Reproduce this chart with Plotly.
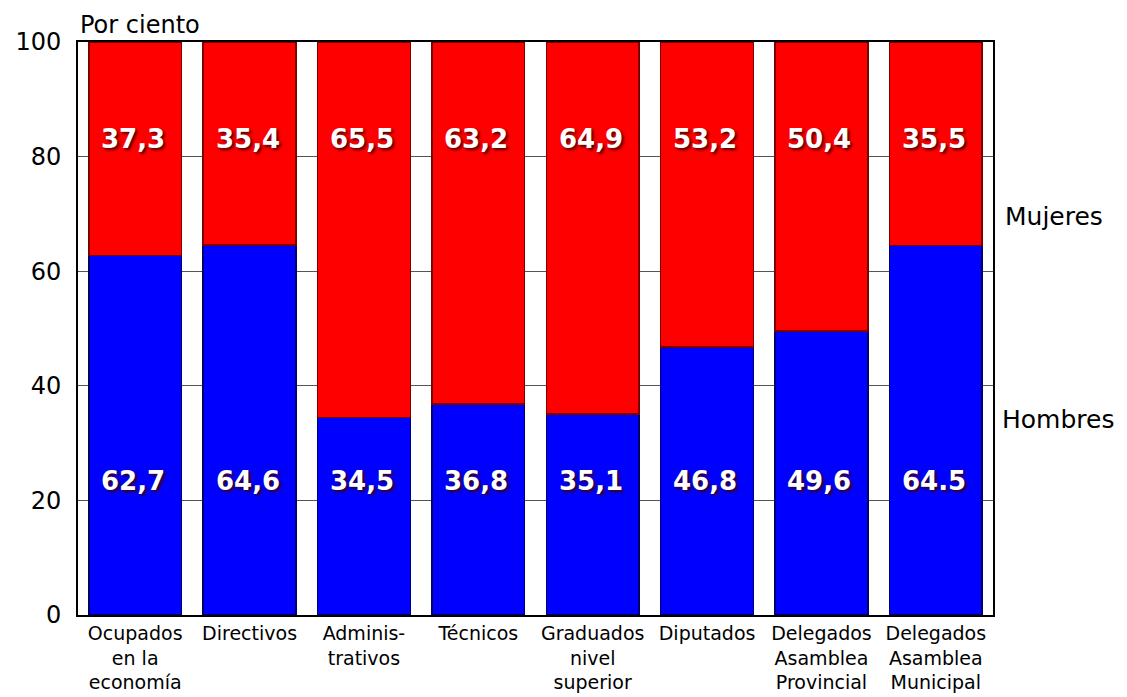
import plotly.graph_objects as go

categories = ["Ocupados<br>en la<br>economía", "Directivos", "Adminis-<br>trativos", "Técnicos",
              "Graduados<br>nivel<br>superior", "Diputados", "Delegados<br>Asamblea<br>Provincial",
              "Delegados<br>Asamblea<br>Municipal"]
hombres_labels = ["62,7", "64,6", "34,5", "36,8", "35,1", "46,8", "49,6", "64.5"]
mujeres_labels = ["37,3", "35,4", "65,5", "63,2", "64,9", "53,2", "50,4", "35,5"]
hombres = [float(s.replace(",", ".")) for s in hombres_labels]
mujeres = [float(s.replace(",", ".")) for s in mujeres_labels]
y_ticks = [0, 20, 40, 60, 80, 100]

WIDE = "DejaVu Sans, Liberation Sans, sans-serif"

fig = go.Figure()
fig.add_trace(go.Bar(x=list(range(len(categories))), y=hombres, name="Hombres",
                     marker=dict(color="#0000FF", line=dict(color="#00006A", width=1.5))))
fig.add_trace(go.Bar(x=list(range(len(categories))), y=mujeres, name="Mujeres",
                     marker=dict(color="#FF0000", line=dict(color="#7A0000", width=1.5))))

lbl_font = dict(family=WIDE, size=26, color="white", weight="bold",
                shadow="2px 2px 3px rgba(60,0,0,0.9)")
for i in range(len(categories)):
    fig.add_annotation(x=i, y=83, text=mujeres_labels[i], showarrow=False, font=lbl_font,
                       xref="x", yref="y", xshift=-2)
    fig.add_annotation(x=i, y=23.4, text=hombres_labels[i], showarrow=False, font=lbl_font,
                       xref="x", yref="y", xshift=-2)

fig.add_annotation(text="Por ciento", xref="paper", yref="paper", x=0.0, y=1.0,
                   xanchor="left", yanchor="bottom", yshift=1, showarrow=False,
                   font=dict(family=WIDE, size=24, color="black"))
fig.add_annotation(text="Mujeres", xref="paper", yref="y", x=1.0, y=69.5,
                   xanchor="left", yanchor="middle", xshift=10, showarrow=False,
                   font=dict(family=WIDE, size=25, color="black"))
fig.add_annotation(text="Hombres", xref="paper", yref="y", x=1.0, y=34.2,
                   xanchor="left", yanchor="middle", xshift=7, showarrow=False,
                   font=dict(family=WIDE, size=25, color="black"))

fig.update_layout(
    barmode="stack",
    bargap=0.19,
    width=1127, height=697,
    margin=dict(l=78, r=134, t=42, b=82),
    plot_bgcolor="white", paper_bgcolor="white",
    showlegend=False,
    xaxis=dict(tickvals=list(range(len(categories))), ticktext=categories,
               range=[-0.5, len(categories) - 0.5],
               tickfont=dict(family=WIDE, size=19, color="black"),
               showline=True, linecolor="black", linewidth=2, mirror=True,
               ticks="", showgrid=False, automargin=False, ticklabelstandoff=0),
    yaxis=dict(range=[0, 100], tickvals=y_ticks,
               tickfont=dict(family=WIDE, size=24, color="black"),
               showline=True, linecolor="black", linewidth=2, mirror=True,
               showgrid=True, gridcolor="#555555", gridwidth=1, ticks="",
               zeroline=False, ticklabelstandoff=10, automargin=False),
)

fig.write_html("out.html", config={"displayModeBar": False},
               post_script="document.body.style.margin='0';document.body.style.overflow='hidden';")
